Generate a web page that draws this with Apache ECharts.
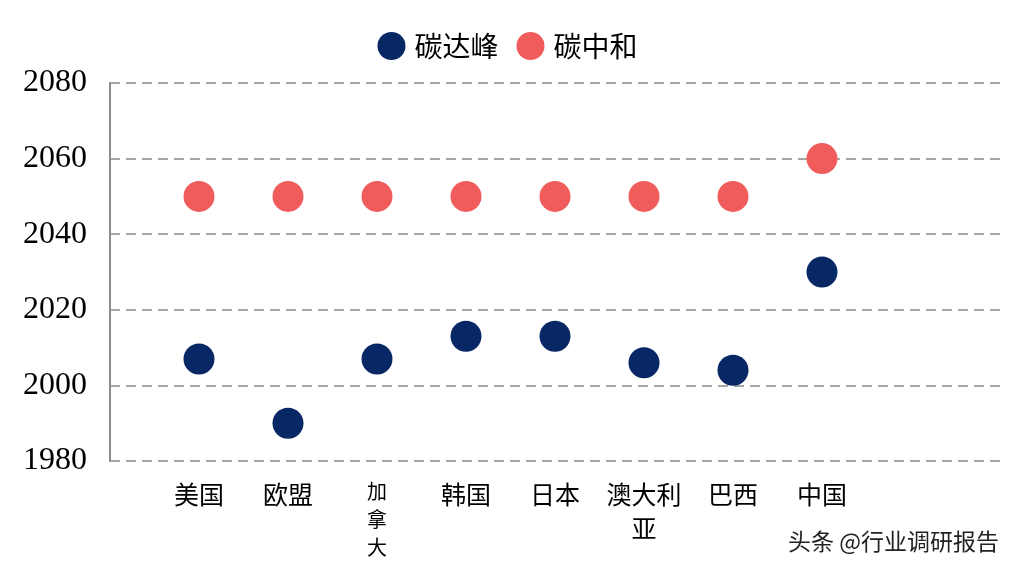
<!DOCTYPE html>
<html lang="zh">
<head>
    <meta charset="UTF-8">
    <title>碳达峰与碳中和时间</title>
    <script src="https://cdn.jsdelivr.net/npm/echarts@6/dist/echarts.min.js"></script>
    <style>
        html, body { margin: 0; padding: 0; background: #fff; }
    </style>
</head>
<body>
    <div id="myChart" style="width: 1015px; height: 575px;"></div>
    <script>
        // 横轴类目（两端留空位）
        const countries = ['', '美国', '欧盟', '加\n拿\n大', '韩国', '日本', '澳大利\n亚', '巴西', '中国', '', ''];
        // 碳达峰年份
        const peakYears = [null, 2007, 1990, 2007, 2013, 2013, 2006, 2004, 2030, null, null];
        // 碳中和年份
        const neutralYears = [null, 2050, 2050, 2050, 2050, 2050, 2050, 2050, 2060, null, null];

        const cjk = '"Noto Sans CJK SC", sans-serif';
        const myChart = echarts.init(document.getElementById('myChart'));

        const option = {
            animation: false,
            legend: {
                top: 27,
                left: 'center',
                itemWidth: 28,
                itemHeight: 28,
                itemGap: 18,
                icon: 'circle',
                textStyle: { fontSize: 28, fontFamily: cjk, color: '#000', padding: [0, 0, 0, 4] },
                data: ['碳达峰', '碳中和']
            },
            grid: { left: 110, right: 15, top: 83, bottom: 114 },
            xAxis: {
                type: 'category',
                boundaryGap: false,
                data: countries.map(function (c) {
                    // 竖排的“加拿大”字号略小
                    return c === '加\n拿\n大'
                        ? { value: c, textStyle: { fontSize: 20, lineHeight: 28 } }
                        : c;
                }),
                axisLine: { show: false },
                axisTick: { show: false },
                splitLine: { show: false },
                axisLabel: {
                    interval: 0,
                    margin: 16,
                    fontSize: 25,
                    lineHeight: 34,
                    fontFamily: cjk,
                    color: '#000',
                    verticalAlign: 'top'
                }
            },
            yAxis: {
                type: 'value',
                min: 1980,
                max: 2080,
                interval: 20,
                axisLine: { show: true, lineStyle: { color: '#8c8c8c', width: 2 } },
                axisTick: { show: false },
                splitLine: { lineStyle: { color: '#a6a6a6', width: 2, type: [10, 6] } },
                axisLabel: {
                    margin: 23,
                    fontSize: 32,
                    fontFamily: '"Liberation Serif", serif',
                    color: '#000',
                    formatter: function (v) { return String(v); }
                }
            },
            series: [
                {
                    name: '碳达峰',
                    type: 'scatter',
                    symbolSize: 31,
                    itemStyle: { color: '#082765', opacity: 1 },
                    data: peakYears
                },
                {
                    name: '碳中和',
                    type: 'scatter',
                    symbolSize: 31,
                    itemStyle: { color: '#f05b5b', opacity: 1 },
                    data: neutralYears
                }
            ],
            graphic: [
                {
                    type: 'text',
                    right: 16,
                    top: 530,
                    style: {
                        text: '头条 @行业调研报告',
                        fontSize: 23,
                        fontFamily: cjk,
                        fill: '#222'
                    }
                }
            ]
        };

        myChart.setOption(option);
    </script>
</body>
</html>
